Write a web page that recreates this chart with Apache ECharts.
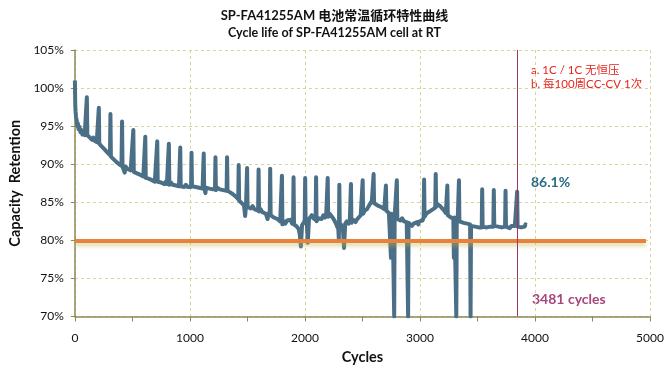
<!DOCTYPE html>
<html>
<head>
<meta charset="utf-8">
<script src="https://cdn.jsdelivr.net/npm/echarts@6/dist/echarts.min.js"></script>
<style>html,body{margin:0;padding:0;background:#fff;}#c{width:669px;height:370px;}</style>
</head>
<body>
<div id="c"></div>
<script>
var titleText = 'SP-FA41255AM 电池常温循环特性曲线';
var subtitleText = 'Cycle life of SP-FA41255AM cell at RT';
var xAxisName = 'Cycles';
var yAxisName = 'Capacity  Retention';
var noteLines = ['a. 1C / 1C 无恒压', 'b. 每100周CC-CV 1次'];
var finalLabel = '86.1%';
var cyclesLabel = '3481 cycles';
var limitValue = 80;
var markerCycle = 3850;

var cycles = [
0,3,6,10,15,20,25,32,40,48,55,65,75,85,95,104,108,
118,130,140,150,160,170,180,190,198,205,208,212,
220,235,245,260,270,285,295,305,309,313,
325,340,350,360,372,385,395,405,410,414,
425,433,440,455,470,485,500,508,512,
525,540,555,570,580,595,608,612,616,
628,640,655,670,680,695,712,716,720,
735,750,760,775,790,800,813,817,821,
835,850,865,880,890,905,912,916,920,
935,950,965,980,995,1010,1014,1018,
1035,1050,1065,1080,1095,1110,1116,1120,1124,
1135,1140,1155,1170,1185,1200,1210,1218,1222,1226,
1240,1260,1275,1290,1305,1319,1323,1327,
1340,1350,1360,1370,1385,1395,1408,1420,1424,1428,
1440,1450,1460,1470,1480,1488,1493,1497,1501,
1515,1530,1545,1560,1575,1593,1597,1601,
1615,1630,1645,1660,1675,1685,1694,1698,1702,
1715,1730,1745,1760,1775,1785,1796,1800,1804,
1815,1830,1845,1860,1875,1888,1897,1901,1905,
1918,1930,1945,1955,1965,1975,1988,1998,2002,2006,
2015,2025,2035,2048,2060,2075,2085,2093,2097,2101,
2115,2130,2145,2160,2175,2185,2194,2198,2202,
2215,2230,2245,2260,2270,2280,2290,2295,2299,2303,
2312,2320,2330,2340,2350,2365,2380,2390,2396,2400,2404,
2420,2440,2455,2470,2485,2498,2502,2506,
2520,2540,2555,2570,2582,2593,2597,2601,
2615,2630,2645,2660,2675,2690,2700,2704,2708,
2720,2730,2740,2748,2752,2762,2772,2776,2780,
2788,2795,2799,2803,
2815,2830,2845,2860,2875,2885,2893,2897,2901,
2915,2930,2945,2960,2975,2985,2995,3010,3022,3032,3036,3040,
3055,3070,3085,3100,3115,3125,3133,3137,3141,
3150,3160,3175,3190,3205,3215,3225,3234,3238,3242,
3255,3270,3282,3290,3295,3300,3306,3312,3316,3320,
3328,3335,3339,3343,
3360,3380,3395,3410,3425,3436,3440,3444,
3460,3480,3495,3510,3525,3537,3541,3545,
3560,3580,3595,3610,3625,3638,3642,3646,
3660,3680,3695,3710,3725,3740,3744,3748,
3765,3780,3795,3810,3825,3841,3845,3849,
3865,3880,3895,3910,3918,3925
];
var retention = [
101.0,97.8,96.9,96.2,95.8,95.0,95.4,94.6,94.9,94.2,94.5,93.9,94.3,93.8,94.0,98.8,93.8,
93.9,93.5,93.7,93.2,93.5,93.1,93.3,92.9,93.1,92.9,97.4,92.7,
92.8,92.3,92.5,91.9,92.0,91.5,91.6,91.2,96.6,91.0,
91.0,90.6,90.7,90.3,90.4,90.0,90.2,89.8,95.6,89.7,
89.7,88.9,89.7,89.4,89.6,89.2,89.3,94.5,89.0,
89.1,88.8,88.9,88.6,88.8,88.4,88.5,93.6,88.2,
88.4,88.1,88.2,87.9,88.1,87.7,87.9,93.0,87.7,
87.9,87.6,87.8,87.4,87.7,87.4,87.6,92.7,87.3,
87.6,87.3,87.5,87.2,87.4,87.1,87.3,92.2,87.1,
87.3,87.0,87.3,87.0,87.2,87.0,91.5,87.1,
87.3,87.0,87.2,86.9,87.1,86.8,87.0,91.4,86.9,
86.2,86.9,87.1,86.8,87.0,86.7,86.9,86.8,90.9,86.6,
86.9,86.7,86.9,86.6,86.8,86.5,90.9,86.5,
86.6,86.3,86.5,86.1,86.2,85.8,85.9,85.4,89.9,85.2,
85.3,84.9,85.1,84.6,83.2,84.6,84.4,89.5,84.4,
84.6,84.2,84.5,84.1,84.3,83.9,89.3,83.8,
84.1,83.7,83.9,83.5,82.8,83.6,83.3,89.4,83.3,
83.4,83.0,83.2,82.8,83.0,82.5,82.7,88.5,82.1,
82.5,82.2,82.6,82.4,82.7,82.2,82.5,88.3,82.1,
82.3,81.8,81.5,80.8,79.2,82.0,82.3,82.6,88.2,82.4,
82.7,79.7,82.8,83.0,83.3,82.9,83.1,82.7,88.3,82.5,
82.9,83.1,82.8,83.3,83.0,83.4,83.2,88.2,83.1,
83.5,83.2,82.9,82.5,82.2,81.8,81.5,80.0,87.3,81.8,
82.1,81.8,81.5,79.0,82.2,82.5,82.2,82.5,82.3,87.4,82.3,
82.7,82.4,82.8,83.0,83.3,83.4,87.9,83.5,
83.9,84.1,84.5,84.7,85.2,85.0,88.7,84.9,
85.0,84.6,84.8,84.4,84.6,84.1,84.3,87.2,83.9,
84.0,83.6,83.8,77.7,83.5,83.2,83.4,70.0,83.1,
83.2,82.9,87.9,82.8,
83.0,82.6,82.9,82.5,82.7,82.4,82.6,70.0,82.3,
82.2,81.9,82.2,82.0,82.4,82.1,82.5,82.7,82.6,83.0,88.0,83.1,
83.5,83.4,83.8,83.7,84.1,84.0,84.3,88.7,84.4,
84.8,84.9,84.5,84.3,84.0,83.8,83.6,83.5,87.2,83.3,
83.3,83.0,83.2,82.9,77.7,83.0,82.8,83.0,70.0,82.9,
82.6,82.8,87.9,82.5,
82.6,82.3,82.5,82.2,82.4,82.1,70.0,81.9,
82.1,81.8,82.0,81.7,81.9,81.7,86.7,81.8,
81.9,81.7,81.9,81.8,82.0,81.8,86.6,81.9,
82.0,81.8,82.0,81.7,81.9,81.8,86.5,81.8,
81.9,81.6,81.9,81.7,81.9,81.8,86.4,81.8,
82.0,81.7,81.9,81.8,82.1,82.0
];

var FONT = 'Lato, "Noto Sans CJK SC", sans-serif';
var chart = echarts.init(document.getElementById('c'), null, {renderer: 'canvas'});
var seriesData = cycles.map(function (c, i) { return [c, retention[i]]; });

chart.setOption({
  animation: false,
  backgroundColor: '#ffffff',
  textStyle: {fontFamily: FONT},
  title: {
    text: titleText,
    subtext: subtitleText,
    left: 'center',
    top: 4,
    itemGap: 5,
    textStyle: {fontFamily: FONT, fontSize: 13, fontWeight: 'bold', color: '#111'},
    subtextStyle: {fontFamily: FONT, fontSize: 12.5, fontWeight: 'bold', color: '#111'}
  },
  grid: {left: 73, right: 19, top: 50, bottom: 53.5, containLabel: false},
  xAxis: {
    type: 'value', min: 0, max: 5000, interval: 1000,
    name: xAxisName, nameLocation: 'middle', nameGap: 34,
    nameTextStyle: {fontFamily: FONT, fontSize: 14.5, fontWeight: 'bold', color: '#111'},
    axisLine: {lineStyle: {color: '#8e8a55', width: 1.5}},
    axisTick: {show: true, length: 5, lineStyle: {color: '#8e8a55'}},
    minorTick: {show: true, splitNumber: 2, length: 5, lineStyle: {color: '#8e8a55'}},
    axisLabel: {fontFamily: FONT, fontSize: 12, color: '#111', margin: 16, formatter: function (v) { return String(v); }},
    splitLine: {show: true, lineStyle: {color: '#d8d59c', type: [3, 3], width: 1}}
  },
  yAxis: {
    type: 'value', min: 70, max: 105, interval: 5,
    name: yAxisName, nameLocation: 'middle', nameGap: 48,
    nameTextStyle: {fontFamily: FONT, fontSize: 14.5, fontWeight: 'bold', color: '#111'},
    axisLine: {show: true, lineStyle: {color: '#8e8a55', width: 1.5}},
    axisTick: {show: true, length: 4, lineStyle: {color: '#8e8a55'}},
    axisLabel: {fontFamily: FONT, fontSize: 12, color: '#111', margin: 11, formatter: '{value}%'},
    splitLine: {show: true, lineStyle: {color: '#d8d59c', type: [3, 3], width: 1}}
  },
  series: [{
    type: 'line',
    data: seriesData,
    showSymbol: false,
    symbol: 'none',
    clip: true,
    lineStyle: {color: '#4a6f86', width: 4, join: 'round'},
    z: 3,
    markLine: {
      silent: true,
      symbol: ['none', 'none'],
      label: {show: false},
      data: [
        [{coord: [0, limitValue], lineStyle: {color: '#e8823a', width: 4, type: 'solid', shadowColor: 'rgba(190,180,90,0.55)', shadowBlur: 4, shadowOffsetY: 3}}, {coord: [4965, limitValue]}],
        {xAxis: markerCycle, lineStyle: {color: '#9e3468', width: 1, type: 'solid'}}
      ]
    }
  }],
  graphic: [
    {type: 'text', left: 531, top: 65, style: {text: noteLines[0], fill: '#e6231b', font: '11.5px ' + FONT}},
    {type: 'text', left: 531, top: 79, style: {text: noteLines[1], fill: '#e6231b', font: '11.5px ' + FONT}},
    {type: 'text', left: 531, top: 175, style: {text: finalLabel, fill: '#2a6a88', font: 'bold 14px ' + FONT}},
    {type: 'text', left: 532, top: 292, style: {text: cyclesLabel, fill: '#a8457a', font: 'bold 14px ' + FONT}}
  ]
});
</script>
</body>
</html>
